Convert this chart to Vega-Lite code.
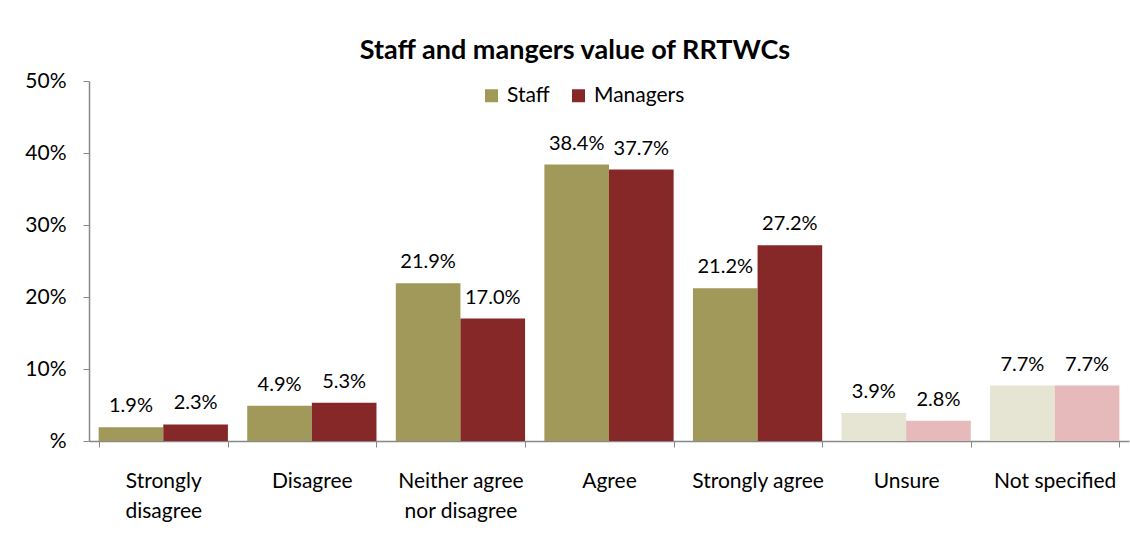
{
  "$schema": "https://vega.github.io/schema/vega-lite/v6.json",
  "autosize": {"type": "none"},
  "width": 1040,
  "height": 360,
  "padding": {"left": 89, "top": 81, "right": 1, "bottom": 92},
  "background": "white",
  "title": {
    "text": "Staff and mangers value of RRTWCs",
    "font": "Lato",
    "fontSize": 27,
    "fontWeight": "bold",
    "color": "black",
    "anchor": "middle",
    "dx": -34,
    "offset": 5
  },
  "data": {
    "values": [
      {"category": "Strongly disagree", "series": "Staff", "group": "Staff", "value": 0.019},
      {"category": "Strongly disagree", "series": "Managers", "group": "Managers", "value": 0.023},
      {"category": "Disagree", "series": "Staff", "group": "Staff", "value": 0.049},
      {"category": "Disagree", "series": "Managers", "group": "Managers", "value": 0.053},
      {"category": "Neither agree nor disagree", "series": "Staff", "group": "Staff", "value": 0.219},
      {"category": "Neither agree nor disagree", "series": "Managers", "group": "Managers", "value": 0.170},
      {"category": "Agree", "series": "Staff", "group": "Staff", "value": 0.384},
      {"category": "Agree", "series": "Managers", "group": "Managers", "value": 0.377},
      {"category": "Strongly agree", "series": "Staff", "group": "Staff", "value": 0.212},
      {"category": "Strongly agree", "series": "Managers", "group": "Managers", "value": 0.272},
      {"category": "Unsure", "series": "Staff", "group": "Staff (other)", "value": 0.039},
      {"category": "Unsure", "series": "Managers", "group": "Managers (other)", "value": 0.028},
      {"category": "Not specified", "series": "Staff", "group": "Staff (other)", "value": 0.077},
      {"category": "Not specified", "series": "Managers", "group": "Managers (other)", "value": 0.077}
    ]
  },
  "encoding": {
    "x": {
      "field": "category",
      "type": "nominal",
      "sort": null,
      "scale": {"paddingInner": 0.13, "paddingOuter": 0.065},
      "axis": {
        "title": null,
        "labelAngle": 0,
        "labelFont": "Lato",
        "labelFontSize": 21,
        "labelColor": "black",
        "labelPadding": 23,
        "labelLineHeight": 30,
        "labelBaseline": "top",
        "tickBand": "extent",
        "tickSize": 6,
        "tickColor": "#888888",
        "domainColor": "#888888",
        "domainWidth": 1.5,
        "labelExpr": "datum.label == 'Strongly disagree' ? ['Strongly', 'disagree'] : datum.label == 'Neither agree nor disagree' ? ['Neither agree', 'nor disagree'] : datum.label"
      }
    },
    "xOffset": {"field": "series", "type": "nominal", "sort": ["Staff", "Managers"]},
    "y": {
      "field": "value",
      "type": "quantitative",
      "scale": {"domain": [0, 0.5], "nice": false},
      "axis": {
        "title": null,
        "values": [0, 0.1, 0.2, 0.3, 0.4, 0.5],
        "format": ".0%",
        "labelExpr": "datum.value == 0 ? '%' : datum.label",
        "grid": false,
        "labelFont": "Lato",
        "labelFontSize": 21,
        "labelColor": "black",
        "labelPadding": 17,
        "tickSize": 6,
        "tickColor": "#888888",
        "domainColor": "#888888",
        "domainWidth": 1.5
      }
    }
  },
  "layer": [
    {
      "mark": {"type": "bar"},
      "encoding": {
        "color": {
          "field": "group",
          "type": "nominal",
          "scale": {
            "domain": ["Staff", "Managers", "Staff (other)", "Managers (other)"],
            "range": ["#A0995A", "#862828", "#E6E4D3", "#E6BABB"]
          },
          "legend": {
            "values": ["Staff", "Managers"],
            "title": null,
            "orient": "none",
            "direction": "horizontal",
            "legendX": 392,
            "legendY": 4,
            "symbolType": "square",
            "symbolSize": 169,
            "symbolStrokeWidth": 0,
            "symbolOpacity": 1,
            "labelFont": "Lato",
            "labelFontSize": 21,
            "labelColor": "black",
            "labelOffset": 5,
            "columnPadding": 18
          }
        }
      }
    },
    {
      "mark": {"type": "text", "baseline": "bottom", "dy": -11, "font": "Lato", "fontSize": 20, "color": "black"},
      "encoding": {
        "text": {"field": "value", "type": "quantitative", "format": ".1%"}
      }
    }
  ],
  "config": {
    "view": {"stroke": null}
  }
}
